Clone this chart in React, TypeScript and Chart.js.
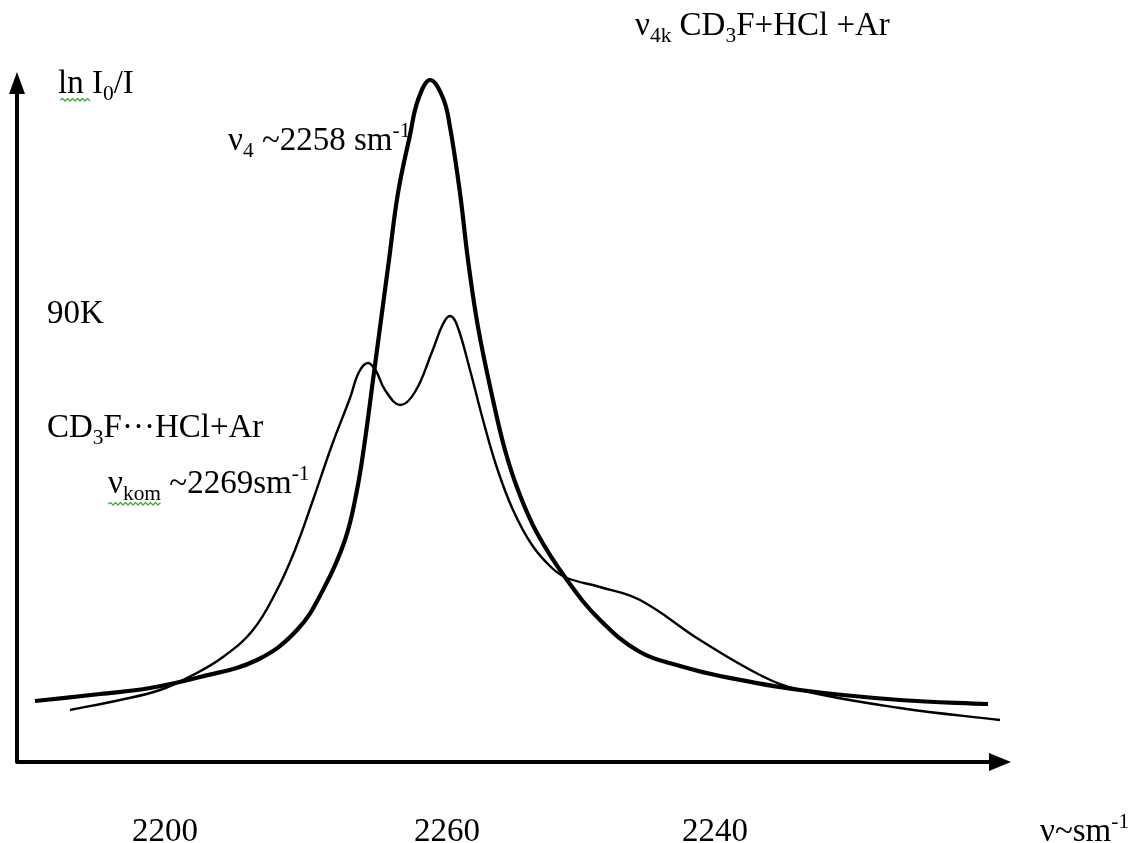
import React, { useEffect, useRef } from "react";
import { Chart, registerables } from "chart.js";

Chart.register(...registerables);

// Monomer band (thick curve): position along the drawn axis and ln I0/I
const monomerPos = [2.0, 8.5, 13.5, 18.5, 24.2, 28.2, 30.8, 33.0, 34.2, 35.0, 35.8, 36.6, 37.4, 38.3, 39.5, 40.3, 41.5, 42.8, 43.5, 44.5, 45.3, 46.3, 47.8, 49.0, 50.3, 52.2, 55.2, 58.5, 62.5, 66.5, 70.5, 78.5, 88.5, 97.3];
const monomerAbs = [6.4, 7.1, 7.7, 8.8, 10.5, 13.5, 17.5, 22.5, 27.5, 32.5, 38.5, 44.5, 50.5, 57.2, 63.0, 66.5, 68.5, 66.7, 63.8, 57.2, 50.5, 43.8, 36.5, 31.5, 27.5, 23.2, 18.5, 14.5, 11.3, 9.9, 8.9, 7.5, 6.5, 6.1];

// Complex band (thin curve)
const complexPos = [5.5, 10.5, 14.5, 17.8, 20.8, 23.8, 26.2, 28.0, 29.8, 31.7, 33.5, 34.4, 35.3, 36.1, 37.0, 38.5, 40.0, 41.7, 42.8, 43.5, 44.2, 45.5, 46.8, 48.2, 49.8, 51.7, 53.7, 55.2, 58.5, 62.5, 68.5, 74.5, 78.5, 88.5, 98.5];
const complexAbs = [5.5, 6.5, 7.5, 9.0, 10.8, 13.5, 17.5, 21.5, 26.5, 32.0, 36.7, 39.3, 40.2, 39.4, 37.5, 36.0, 37.3, 41.3, 44.1, 44.9, 44.0, 39.5, 34.5, 29.7, 25.5, 22.0, 19.7, 18.7, 17.8, 16.5, 12.5, 9.0, 7.5, 5.7, 4.5];

// Axis tick labels as printed on the figure
const tickPositions = [15.0, 43.2, 70.0];
const tickLabels = ["2200", "2260", "2240"];

const FONT = '"Liberation Serif", "Times New Roman", serif';
const FS = 33;

type Seg = { t: string; sub?: boolean; sup?: boolean };

function drawRich(ctx: CanvasRenderingContext2D, x: number, y: number, segs: Seg[], size: number) {
  let cx = x;
  for (const s of segs) {
    const small = s.sub || s.sup;
    const fs = small ? size * 0.65 : size;
    ctx.font = `${fs}px ${FONT}`;
    const dy = s.sub ? size * 0.2 : s.sup ? -size * 0.38 : 0;
    ctx.fillText(s.t, cx, y + dy);
    cx += ctx.measureText(s.t).width;
  }
}

function squiggle(ctx: CanvasRenderingContext2D, x0: number, x1: number, y: number) {
  ctx.save();
  ctx.strokeStyle = "#3aa63a";
  ctx.lineWidth = 1.2;
  ctx.beginPath();
  let up = true;
  ctx.moveTo(x0, y);
  for (let x = x0 + 2.5; x <= x1; x += 2.5) {
    ctx.lineTo(x, up ? y - 1.5 : y + 1);
    up = !up;
  }
  ctx.stroke();
  ctx.restore();
}

const decorPlugin = {
  id: "decor",
  beforeDatasetsDraw(chart: any) {
    const ctx: CanvasRenderingContext2D = chart.ctx;
    const { left, bottom, top } = chart.chartArea;
    const xs = chart.scales.x;
    ctx.save();
    ctx.fillStyle = "#000";
    ctx.textBaseline = "alphabetic";
    ctx.textAlign = "left";

    // axes with arrows
    const ax = left + 2;
    const ay = bottom - 3;
    ctx.strokeStyle = "#000";
    ctx.lineWidth = 4;
    ctx.lineJoin = "round";
    ctx.beginPath();
    ctx.moveTo(ax, top + 18);
    ctx.lineTo(ax, ay);
    ctx.lineTo(990, ay);
    ctx.stroke();
    ctx.beginPath();
    ctx.moveTo(ax, top - 3);
    ctx.lineTo(ax - 8, top + 19);
    ctx.lineTo(ax + 8, top + 19);
    ctx.closePath();
    ctx.fill();
    ctx.beginPath();
    ctx.moveTo(1011, ay);
    ctx.lineTo(989, ay - 9);
    ctx.lineTo(989, ay + 9);
    ctx.closePath();
    ctx.fill();

    // texts
    drawRich(ctx, 635, 35, [{ t: "ν" }, { t: "4k", sub: true }, { t: " CD" }, { t: "3", sub: true }, { t: "F+HCl +Ar" }], FS);
    drawRich(ctx, 58, 93, [{ t: "ln I" }, { t: "0", sub: true }, { t: "/I" }], FS);
    squiggle(ctx, 60, 90, 100);
    drawRich(ctx, 228, 150, [{ t: "ν" }, { t: "4", sub: true }, { t: " ~2258 sm" }, { t: "-1", sup: true }], FS);
    drawRich(ctx, 47, 323, [{ t: "90K" }], FS);
    drawRich(ctx, 47, 437, [{ t: "CD" }, { t: "3", sub: true }, { t: "F···HCl+Ar" }], FS);
    drawRich(ctx, 108, 493, [{ t: "ν" }, { t: "kom", sub: true }, { t: " ~2269sm" }, { t: "-1", sup: true }], FS);
    squiggle(ctx, 108, 162, 504);

    ctx.textAlign = "center";
    ctx.font = `${FS}px ${FONT}`;
    tickPositions.forEach((p, i) => {
      ctx.fillText(tickLabels[i], xs.getPixelForValue(p), 841);
    });
    ctx.textAlign = "left";
    drawRich(ctx, 1040, 841, [{ t: "ν~sm" }, { t: "-1", sup: true }], FS);
    ctx.restore();
  },
};

export default function App() {
  const ref = useRef<HTMLCanvasElement | null>(null);
  useEffect(() => {
    if (!ref.current) return;
    const chart = new Chart(ref.current, {
      type: "line",
      data: {
        datasets: [
          {
            label: "CD3F+HCl+Ar",
            data: monomerPos.map((x, i) => ({ x, y: monomerAbs[i] })),
            borderColor: "#000",
            borderWidth: 4.2,
            pointRadius: 0,
            tension: 0.4,
            fill: false,
          },
          {
            label: "CD3F···HCl+Ar",
            data: complexPos.map((x, i) => ({ x, y: complexAbs[i] })),
            borderColor: "#000",
            borderWidth: 2.4,
            pointRadius: 0,
            tension: 0.4,
            fill: false,
          },
        ],
      },
      options: {
        animation: false,
        responsive: false,
        layout: { padding: { left: 15, right: 134, top: 75, bottom: 78 } },
        plugins: { legend: { display: false }, tooltip: { enabled: false } },
        scales: {
          x: { type: "linear", min: 0, max: 99, display: false },
          y: { type: "linear", min: 0, max: 69, display: false },
        },
        elements: { line: { borderCapStyle: "butt" } },
      },
      plugins: [decorPlugin],
    } as any);
    return () => chart.destroy();
  }, []);
  return (
    <div style={{ position: "fixed", left: 0, top: 0, width: 1139, height: 843, background: "#fff" }}>
      <canvas ref={ref} width={1139} height={843} style={{ display: "block" }} />
    </div>
  );
}
